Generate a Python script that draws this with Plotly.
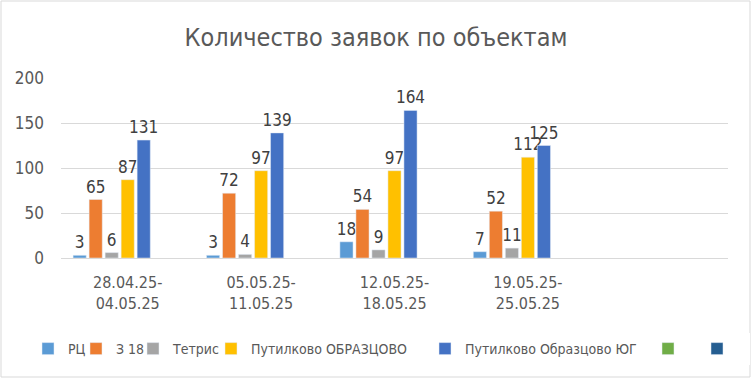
import plotly.graph_objects as go

categories = ["28.04.25-<br>04.05.25", "05.05.25-<br>11.05.25", "12.05.25-<br>18.05.25", "19.05.25-<br>25.05.25", " "]
series_names = ["РЦ", "З 18", "Тетрис", "Путилково ОБРАЗЦОВО", "Путилково Образцово ЮГ", " ", "  "]
rc = [3, 3, 18, 7, None]
z18 = [65, 72, 54, 52, None]
tetris = [6, 4, 9, 11, None]
put_obr = [87, 97, 97, 112, None]
put_yug = [131, 139, 164, 125, None]
empty1 = [None, None, None, None, None]
empty2 = [None, None, None, None, None]
series_values = [rc, z18, tetris, put_obr, put_yug, empty1, empty2]
colors = ["#5B9BD5", "#ED7D31", "#A5A5A5", "#FFC000", "#4472C4", "#70AD47", "#255E91"]
legend_widths = [3, 12, 33, 169, 178, 0, 0]

FONT = "DejaVu Sans Condensed, Liberation Sans"
W, H = 752, 379
ml, mr, mt, mb = 61, 24, 78, 121

fig = go.Figure()
for name, vals, c, lw in zip(series_names, series_values, colors, legend_widths):
    fig.add_trace(go.Bar(
        x=categories, y=vals, name=name, marker_color=c,
        text=[("" if v is None else str(v)) for v in vals],
        textposition="outside", cliponaxis=False, constraintext="none",
        textfont=dict(size=17, color="#404040", family=FONT),
        showlegend=True, legendwidth=lw,
    ))

pw = W - ml - mr
ph = H - mt - mb
fig.update_layout(
    width=W, height=H,
    margin=dict(l=ml, r=mr, t=mt, b=mb, autoexpand=False),
    paper_bgcolor="white", plot_bgcolor="white",
    barmode="group", bargap=0.16, bargroupgap=0.18,
    font=dict(family=FONT, color="#595959"),
    title=dict(text="Количество заявок по объектам", x=0.5, xanchor="center",
               y=1 - 37 / H, yanchor="middle",
               font=dict(size=25, color="#595959", family=FONT)),
    xaxis=dict(type="category", categoryorder="array", categoryarray=categories,
               tickfont=dict(size=16, color="#595959"), showgrid=False,
               showline=True, linecolor="#D9D9D9", ticks="", ticklabelstandoff=10),
    yaxis=dict(range=[0, 200], dtick=50, showgrid=True, gridcolor="#D9D9D9",
               gridwidth=1, zeroline=False, showline=False, ticks="",
               tickfont=dict(size=17, color="#595959"), ticklabelstandoff=16),
    legend=dict(orientation="h", x=(28 - ml) / pw, xanchor="left",
                y=-(349 - (H - mb)) / ph, yanchor="middle",
                font=dict(size=14, color="#595959"),
                itemwidth=30, tracegroupgap=0),
)
fig.add_shape(type="rect", xref="paper", yref="paper",
              x0=(1 - ml) / pw, x1=(W - 2 - ml) / pw,
              y0=-(H - 2 - (H - mb)) / ph, y1=1 + (mt - 1) / ph,
              line=dict(color="#D9D9D9", width=1), fillcolor="rgba(0,0,0,0)", layer="below")
fig.write_html("out.html", config={"displayModeBar": False},
               post_script="document.body.style.margin='0';document.body.style.overflow='hidden';")
